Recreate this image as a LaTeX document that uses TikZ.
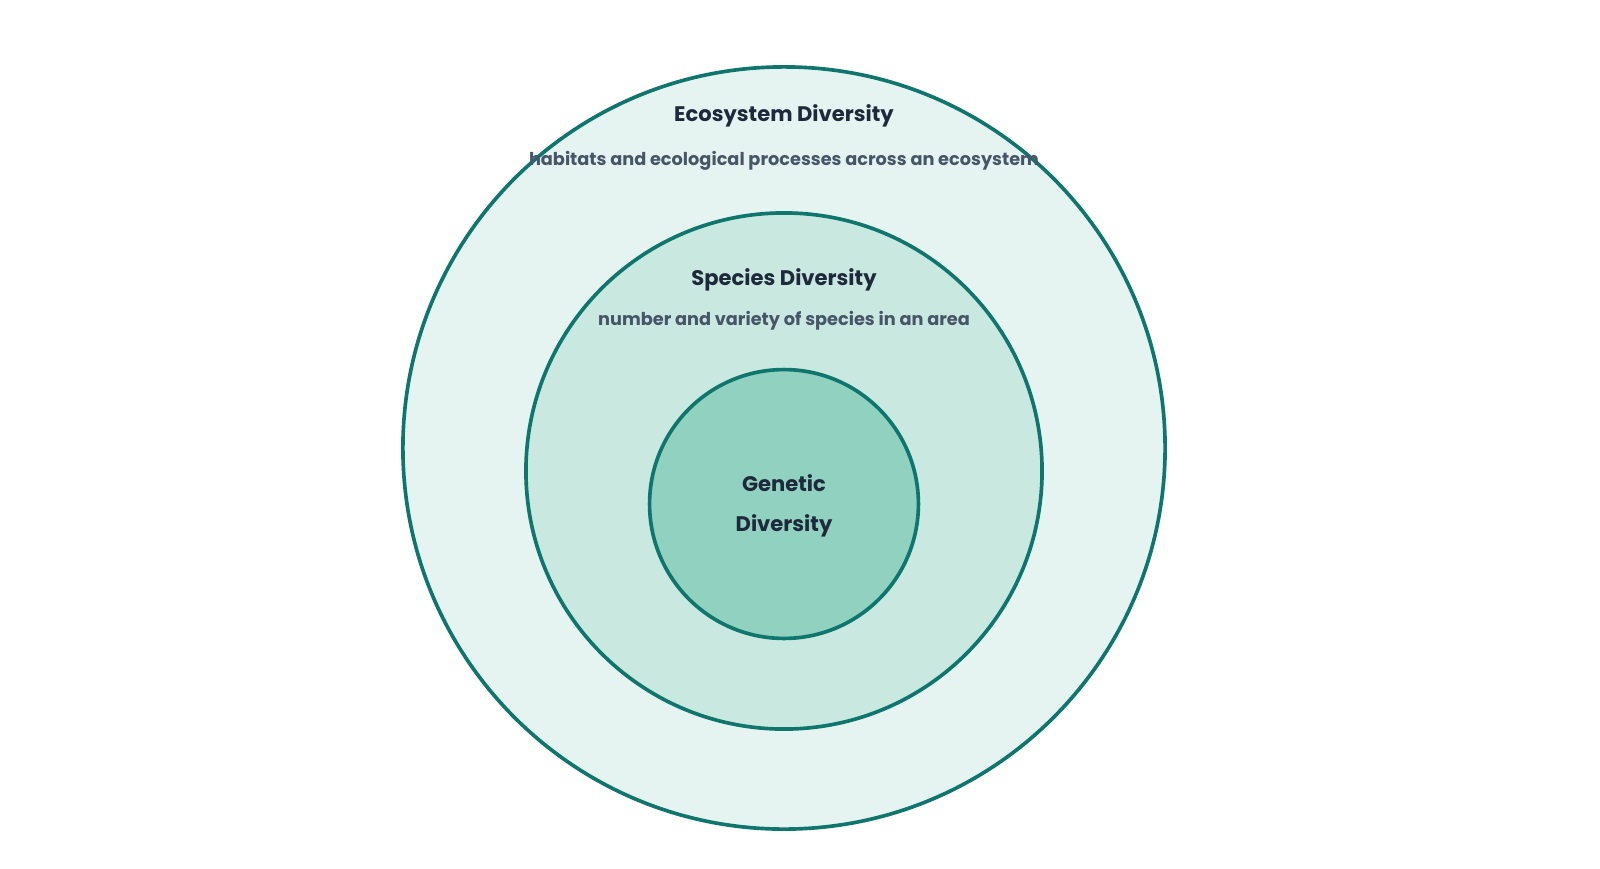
\documentclass[tikz,border=0pt]{standalone}
\usepackage{fontspec}
\setmainfont{Poppins}
\usepackage{tikz}
\definecolor{ring}{HTML}{0F766E}
\definecolor{fillA}{HTML}{E6F4F1}
\definecolor{fillB}{HTML}{C8E8E0}
\definecolor{fillC}{HTML}{90D1BF}
\definecolor{titlec}{HTML}{1E293B}
\definecolor{subc}{HTML}{475569}
\begin{document}
\begin{tikzpicture}[x=0.025cm, y=-0.025cm]
    \tikzset{level/.style = {circle, draw=ring, line width=2.6pt, inner sep=0pt},
             title/.style = {text=titlec, font=\fontsize{15}{28}\selectfont\bfseries},
             sub/.style = {text=subc, font=\fontsize{12.6}{14}\selectfont\bfseries}}
    \useasboundingbox (0, 0) rectangle (1600, 869);

    \node (eco) at (784, 448) [level, fill=fillA, minimum size=19.05cm] {};
    \node (spe) at (784, 471) [level, fill=fillB, minimum size=12.9cm] {};
    \node (gen) at (784, 504) [level, fill=fillC, minimum size=6.72cm] {};

    \node (ecot) at (784, 116) [title] {Ecosystem Diversity};
    \node (ecos) at (784, 161) [sub] {habitats and ecological processes across an ecosystem};

    \node (spet) at (784, 280) [title] {Species Diversity};
    \node (spes) at (784, 321) [sub] {number and variety of species in an area};

    \node (gent) at (784, 506) [title, align=center] {Genetic\\Diversity};
\end{tikzpicture}
\end{document}
